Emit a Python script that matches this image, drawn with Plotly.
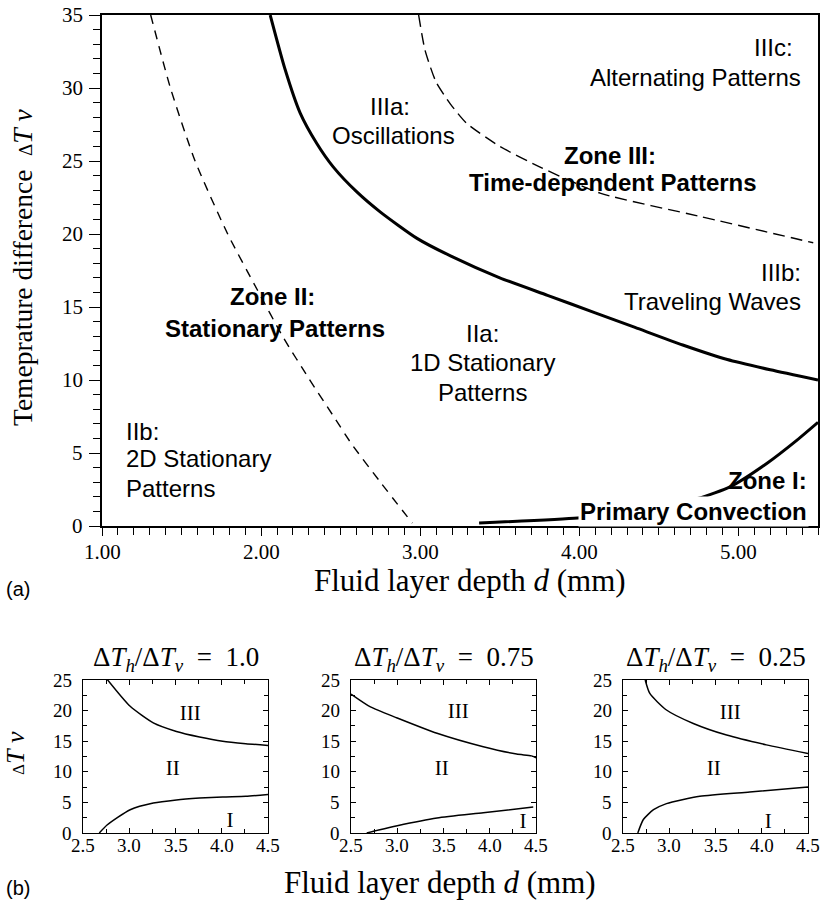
import plotly.graph_objects as go

W, H = 826, 903

# ---------------- Panel (a) data ----------------
left_dash_d = [1.306, 1.43, 1.585, 1.79, 1.975, 2.14, 2.30, 2.45, 2.57, 2.75, 2.95]
left_dash_T = [35.0, 30.0, 25.0, 20.0, 16.2, 12.9, 10.1, 7.6, 5.6, 3.0, 0.2]

mid_solid_d = [2.057, 2.15, 2.245, 2.35, 2.453, 2.6, 2.75, 2.98, 3.19, 3.5, 3.8,
               4.1, 4.35, 4.65, 4.93, 5.2, 5.5]
mid_solid_T = [35.0, 31.3, 28.3, 26.2, 24.6, 22.9, 21.5, 19.7, 18.5, 17.0, 15.8,
               14.6, 13.6, 12.4, 11.4, 10.7, 10.0]

upper_dash_d = [2.99, 3.03, 3.10, 3.19, 3.29, 3.50, 3.75, 4.13, 4.76, 5.47]
upper_dash_T = [35.0, 32.6, 30.4, 28.9, 27.6, 26.0, 24.6, 22.8, 21.2, 19.4]

lower_solid_d = [3.37, 3.99, 4.20, 4.47, 4.75, 4.95, 5.18, 5.37, 5.5]
lower_solid_T = [0.2, 0.55, 0.8, 1.3, 1.9, 2.7, 4.3, 5.9, 7.1]

a_x_ticks = [1, 2, 3, 4, 5]
a_x_labels = ["1.00", "2.00", "3.00", "4.00", "5.00"]
a_y_ticks = [0, 5, 10, 15, 20, 25, 30, 35]

# region labels of panel (a): (text, d, T, anchor, bold)
a_labels = [
    ("IIIc:", 5.356, 32.8, "right", False),
    ("Alternating Patterns", 5.406, 30.75, "right", False),
    ("IIIa:", 2.81, 28.7, "center", False),
    ("Oscillations", 2.835, 26.75, "center", False),
    ("Zone III:", 4.193, 25.4, "center", True),
    ("Time-dependent Patterns", 4.21, 23.5, "center", True),
    ("IIIb:", 5.406, 17.35, "right", False),
    ("Traveling Waves", 5.406, 15.35, "right", False),
    ("Zone II:", 2.07, 15.7, "center", True),
    ("Stationary Patterns", 2.085, 13.5, "center", True),
    ("IIa:", 3.39, 13.2, "center", False),
    ("1D Stationary", 3.39, 11.2, "center", False),
    ("Patterns", 3.39, 9.15, "center", False),
    ("IIb:", 1.14, 6.5, "left", False),
    ("2D Stationary", 1.14, 4.6, "left", False),
    ("Patterns", 1.14, 2.55, "left", False),
    ("Zone I:", 5.445, 3.1, "right", True),
    ("Primary Convection", 5.445, 0.96, "right", True),
]

# ---------------- Panel (b) data ----------------
b_titles = ["1.0", "0.75", "0.25"]
b_x_ticks = [2.5, 3.0, 3.5, 4.0, 4.5]
b_x_labels = ["2.5", "3.0", "3.5", "4.0", "4.5"]
b_y_ticks = [0, 5, 10, 15, 20, 25]

b1_up_d = [2.756, 3.01, 3.26, 3.51, 3.76, 4.01, 4.26, 4.5]
b1_up_T = [25.2, 20.7, 18.0, 16.6, 15.7, 15.0, 14.6, 14.3]
b1_lo_d = [2.676, 2.76, 3.01, 3.26, 3.51, 3.76, 4.01, 4.26, 4.5]
b1_lo_T = [0.0, 1.3, 3.8, 4.9, 5.4, 5.7, 5.9, 6.0, 6.3]

b2_up_d = [2.5, 2.71, 3.0, 3.43, 3.93, 4.29, 4.45, 4.5]
b2_up_T = [22.7, 20.6, 18.8, 16.3, 14.1, 12.9, 12.6, 12.3]
b2_lo_d = [2.67, 2.8, 3.0, 3.43, 3.93, 4.47]
b2_lo_T = [0.0, 0.5, 1.2, 2.45, 3.3, 4.24]

b3_up_d = [2.74, 2.79, 2.97, 3.26, 3.62, 4.05, 4.5]
b3_up_T = [25.0, 22.8, 20.1, 17.9, 16.0, 14.4, 13.0]
b3_lo_d = [2.66, 2.72, 2.83, 2.97, 3.33, 3.87, 4.5]
b3_lo_T = [0.0, 2.2, 3.8, 4.8, 6.0, 6.7, 7.5]

b_zone_text = ["III", "II", "I"]
b1_zone_d = [3.66, 3.47, 4.09]
b1_zone_T = [19.3, 10.3, 1.8]
b2_zone_d = [3.66, 3.48, 4.36]
b2_zone_T = [19.6, 10.3, 1.7]
b3_zone_d = [3.66, 3.48, 4.07]
b3_zone_T = [19.5, 10.3, 1.7]

# ---------------- layout geometry (pixels) ----------------
def px_x(p):
    return p / W

def px_y(p):
    return 1 - p / H

SERIF = "Liberation Serif"
SANS = "Liberation Sans"

fig = go.Figure()

def line(x, y, xa, ya, width, dash="solid"):
    fig.add_trace(go.Scatter(x=x, y=y, mode="lines", xaxis=xa, yaxis=ya,
                             line=dict(color="black", width=width, dash=dash,
                                       shape="spline", smoothing=0.6),
                             showlegend=False, hoverinfo="skip"))

line(left_dash_d, left_dash_T, "x", "y", 1.4, "9px,7px")
line(mid_solid_d, mid_solid_T, "x", "y", 3)
line(upper_dash_d, upper_dash_T, "x", "y", 1.4, "12px,6px")
line(lower_solid_d, lower_solid_T, "x", "y", 3)

bsets = [
    (b1_up_d, b1_up_T, b1_lo_d, b1_lo_T, b1_zone_d, b1_zone_T),
    (b2_up_d, b2_up_T, b2_lo_d, b2_lo_T, b2_zone_d, b2_zone_T),
    (b3_up_d, b3_up_T, b3_lo_d, b3_lo_T, b3_zone_d, b3_zone_T),
]
for i, (ud, ut, ld, lt, zd, zt) in enumerate(bsets):
    xa, ya = f"x{i+2}", f"y{i+2}"
    line(ud, ut, xa, ya, 1.5)
    line(ld, lt, xa, ya, 1.5)
    fig.add_trace(go.Scatter(x=zd, y=zt, mode="text", text=b_zone_text,
                             xaxis=xa, yaxis=ya,
                             textfont=dict(family=SERIF, size=21, color="black"),
                             showlegend=False, hoverinfo="skip"))

# axes: tick labels are hidden and drawn as text annotations at tick positions
main_x = dict(domain=[px_x(102), px_x(818)], range=[1, 5.5],
              tickvals=a_x_ticks, showticklabels=False,
              ticks="outside", ticklen=8, tickwidth=1.2, tickcolor="black",
              minor=dict(dtick=0.1, ticks="outside", ticklen=7, tickwidth=1.2,
                         tickcolor="black", showgrid=False),
              showline=True, linecolor="black", linewidth=1.5, mirror=True,
              showgrid=False, zeroline=False, anchor="y")
main_y = dict(domain=[px_y(526), px_y(15)], range=[0, 35], tickvals=a_y_ticks,
              showticklabels=False,
              ticks="outside", ticklen=11, tickwidth=1.2, tickcolor="black",
              minor=dict(dtick=1, ticks="outside", ticklen=7, tickwidth=1.2,
                         tickcolor="black", showgrid=False),
              showline=True, linecolor="black", linewidth=1.5, mirror=True,
              showgrid=False, zeroline=False, anchor="x")

layout = dict(width=W, height=H, margin=dict(l=0, r=0, t=0, b=0),
              paper_bgcolor="white", plot_bgcolor="white",
              font=dict(family=SERIF, size=20, color="black"),
              xaxis=main_x, yaxis=main_y, showlegend=False)

panel_x = [(83, 268), (351, 536), (623, 808)]
for i, (x0, x1) in enumerate(panel_x):
    n = i + 2
    layout[f"xaxis{n}"] = dict(
        domain=[px_x(x0), px_x(x1)], range=[2.5, 4.5], tickvals=b_x_ticks,
        showticklabels=False, ticks="inside", ticklen=5, tickcolor="black",
        minor=dict(dtick=0.25, ticks="inside", ticklen=4, tickcolor="black",
                   showgrid=False),
        showline=True, linecolor="black", linewidth=1.3, mirror="ticks",
        showgrid=False, zeroline=False, anchor=f"y{n}")
    layout[f"yaxis{n}"] = dict(
        domain=[px_y(833), px_y(680)], range=[0, 25], tickvals=b_y_ticks,
        showticklabels=False, ticks="inside", ticklen=5, tickcolor="black",
        minor=dict(dtick=2.5, ticks="inside", ticklen=4, tickcolor="black",
                   showgrid=False),
        showline=True, linecolor="black", linewidth=1.3, mirror="ticks",
        showgrid=False, zeroline=False, anchor=f"x{n}")

fig.update_layout(**layout)

# tick labels as text placed with axis coordinates
tick_font_a = dict(family=SERIF, size=21, color="black")
for v, lab in zip(a_x_ticks, a_x_labels):
    fig.add_annotation(x=v, y=px_y(552), xref="x", yref="paper", text=lab,
                       showarrow=False, xanchor="center", yanchor="middle",
                       font=tick_font_a)
for v in a_y_ticks:
    fig.add_annotation(x=px_x(85), y=v, xref="paper", yref="y", text=str(v),
                       showarrow=False, xanchor="right", yanchor="middle",
                       font=tick_font_a)
tick_font_b = dict(family=SERIF, size=19, color="black")
for i in range(3):
    n = i + 2
    for v, lab in zip(b_x_ticks, b_x_labels):
        fig.add_annotation(x=v, y=px_y(845), xref=f"x{n}", yref="paper", text=lab,
                           showarrow=False, xanchor="center", yanchor="middle",
                           font=tick_font_b)
    for v in b_y_ticks:
        fig.add_annotation(x=px_x(panel_x[i][0] - 9), y=v, xref="paper", yref=f"y{n}",
                           text=str(v), showarrow=False, xanchor="right",
                           yanchor="middle", font=tick_font_b)

# region labels panel (a)
for text, d, T, anchor, bold in a_labels:
    fig.add_annotation(x=d, y=T, xref="x", yref="y", text=text, showarrow=False,
                       xanchor=anchor, yanchor="middle",
                       font=dict(family=SANS, size=24, color="black",
                                 weight="bold" if bold else "normal"),
                       bgcolor="white" if text == "Primary Convection" else None)

def paper_text(xp, yp, text, size, family=SERIF, angle=0, xanchor="center"):
    fig.add_annotation(x=px_x(xp), y=px_y(yp), xref="paper", yref="paper",
                       text=text, showarrow=False, textangle=angle,
                       xanchor=xanchor, yanchor="middle",
                       font=dict(family=family, size=size, color="black"))

paper_text(470, 580, "Fluid layer depth <i>d</i> (mm)", 31)
paper_text(22, 267,
           "Temeprature difference \u00a0<span style='font-size:19px'>\u0394</span><i>T</i> <i>v</i>",
           27.5, angle=-90)
paper_text(4, 589, "(a)", 20, family=SANS, xanchor="left")
paper_text(4, 888, "(b)", 20, family=SANS, xanchor="left")
paper_text(440, 882, "Fluid layer depth <i>d</i> (mm)", 31)
paper_text(15, 753, "<span style='font-size:17px'>\u0394</span><i>T</i> <i>v</i>", 26, angle=-90)
for (x0, x1), r in zip(panel_x, b_titles):
    paper_text((x0 + x1) / 2, 659,
               f"\u0394<i>T</i><sub><i>h</i></sub>/\u0394<i>T</i><sub><i>v</i></sub>\u2002=\u2002{r}",
               27)

fig.write_html("out.html")
